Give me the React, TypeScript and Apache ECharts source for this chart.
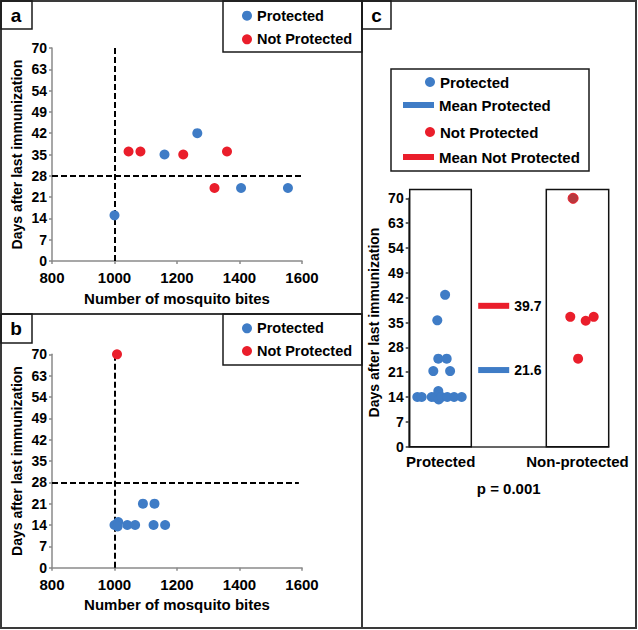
import React, { useEffect, useRef } from 'react';
import * as echarts from 'echarts';

// ---- data ----
const yTickLabels = ['0', '7', '14', '21', '28', '35', '42', '49', '54', '63', '70'];
const seriesNames = ['Protected', 'Not Protected'];
const meanNames = ['Mean Protected', 'Mean Not Protected'];
const cCategories = ['Protected', 'Non-protected'];
const cCategoryX = [16, 84.4];

// panel a
const aProtectedBites = [1000, 1160, 1265, 1405, 1555];
const aProtectedDays = [15, 35, 42, 24, 24];
const aNotProtectedBites = [1045, 1083, 1220, 1320, 1360];
const aNotProtectedDays = [36, 36, 35, 24, 36];

// panel b
const bProtectedBites = [1000, 1012, 1010, 1041, 1066, 1091, 1128, 1125, 1162];
const bProtectedDays = [14, 15, 13.5, 14, 14, 21, 21, 14, 14];
const bNotProtectedBites = [1008];
const bNotProtectedDays = [70];

// panel c (jitter position, days)
const cProtectedJitter = [4.3, 6.5, 11.5, 13.2, 14.8, 15, 16.5, 19.3, 22.7, 26.5, 12.3, 20.7, 14.8, 19, 14.3, 18.2];
const cProtectedDays = [14, 14, 14, 14, 15.7, 13.3, 14, 14, 14, 14, 21.3, 21.3, 24.8, 24.8, 35.6, 42.8];
const cNotProtectedJitter = [82.2, 80.8, 88.5, 92.5, 84.7];
const cNotProtectedDays = [70, 36.6, 35.5, 36.6, 24.8];
const cMeans = [21.6, 39.7];
const cMeanX = 42.5;

// references
const biteThreshold = [1000, 1000];
const dayThreshold = 28;
const hLineEnd = [1600, 1590];
const cBoxX = [[0.5, 31.3], [68.8, 100]];
const cBoxTop = 72.5;

const pValueText = 'p = 0.001';

// ---- styles ----
const FONT = 'Liberation Sans, Arial, Helvetica, sans-serif';
const BLUE = '#3f7cc6';
const RED = '#ea1e2b';
const DARKRED = '#b7393e';
const AXIS_GRAY = '#8a8a8a';
const DOT = 10;

const boldText = (fontSize: number) => ({
  color: '#000',
  fontWeight: 'bold' as const,
  fontSize,
  fontFamily: FONT,
});

function zip(xs: number[], ys: number[]) {
  return xs.map((x, i) => [x, ys[i]]);
}

function yAxisFor(gridIndex: number, color: string, gap: number) {
  return {
    type: 'value',
    gridIndex,
    min: 0,
    max: 70,
    interval: 7,
    axisLine: { show: true, onZero: false, lineStyle: { color, width: 1.5 } },
    axisTick: { show: true, length: 3, lineStyle: { color, width: 1.5 } },
    splitLine: { show: false },
    axisLabel: {
      ...boldText(14),
      margin: 5,
      formatter: (v: number) => yTickLabels[Math.round(v / 7)] ?? '',
    },
    name: 'Days after last immunization',
    nameLocation: 'middle',
    nameRotate: 90,
    nameGap: gap,
    nameTextStyle: boldText(14),
  };
}

function xAxisBites(gridIndex: number) {
  return {
    type: 'value',
    gridIndex,
    min: 800,
    max: 1600,
    interval: 200,
    axisLine: { show: true, onZero: false, lineStyle: { color: AXIS_GRAY, width: 1.5 } },
    axisTick: { show: true, length: 3, lineStyle: { color: AXIS_GRAY, width: 1.5 } },
    splitLine: { show: false },
    axisLabel: { ...boldText(15), margin: 9, formatter: (v: number) => String(v) },
    name: 'Number of mosquito bites',
    nameLocation: 'middle',
    nameGap: 29.5,
    nameTextStyle: boldText(15),
  };
}

function thresholdLines(panel: number) {
  return {
    silent: true,
    symbol: ['none', 'none'],
    z: 1,
    animation: false,
    label: { show: false },
    lineStyle: { color: '#000', type: [6, 3], width: 2 },
    data: [
      [{ coord: [biteThreshold[panel], 0] }, { coord: [biteThreshold[panel], 70] }],
      [{ coord: [800, dayThreshold] }, { coord: [hLineEnd[panel], dayThreshold] }],
    ],
  };
}

function legendFor(names: string[], left: number, top: number, gap: number, icon: string, w: number, h: number, fs: number) {
  return {
    show: true,
    orient: 'vertical',
    left,
    top,
    padding: 0,
    itemGap: gap,
    itemWidth: w,
    itemHeight: h,
    icon,
    selectedMode: false,
    textStyle: { ...boldText(fs), lineHeight: 15 },
    data: names,
  };
}

export default function App() {
  const ref = useRef<HTMLDivElement>(null);

  useEffect(() => {
    if (!ref.current) return;
    const chart = echarts.init(ref.current, undefined, { renderer: 'svg' });

    const dot = (name: string, xi: number, data: any[], color: string, extra: any = {}) => ({
      type: 'scatter',
      name,
      xAxisIndex: xi,
      yAxisIndex: xi,
      symbol: 'circle',
      symbolSize: DOT,
      z: 3,
      itemStyle: { color, opacity: 1 },
      data,
      ...extra,
    });

    const option: any = {
      animation: false,
      backgroundColor: '#fff',
      textStyle: { fontFamily: FONT },
      grid: [
        { left: 52, top: 48, width: 250, height: 213 },
        { left: 52, top: 354.3, width: 250, height: 213.4 },
        { left: 408.7, top: 198.3, width: 200, height: 248.4 },
      ],
      xAxis: [
        xAxisBites(0),
        xAxisBites(1),
        {
          type: 'value',
          gridIndex: 2,
          min: 0,
          max: 100,
          axisLine: { show: true, onZero: false, lineStyle: { color: '#333', width: 1.5 } },
          axisTick: { show: false },
          splitLine: { show: false },
          axisLabel: {
            ...boldText(15),
            margin: 7,
            customValues: cCategoryX,
            formatter: (v: number) => cCategories[cCategoryX.indexOf(v)] ?? '',
          },
          name: pValueText,
          nameLocation: 'middle',
          nameGap: 34,
          nameTextStyle: boldText(15),
        },
      ],
      yAxis: [yAxisFor(0, AXIS_GRAY, 28), yAxisFor(1, AXIS_GRAY, 28), yAxisFor(2, '#333', 28)],
      legend: [
        legendFor(seriesNames, 242, 8.2, 8.6, 'circle', DOT, DOT, 14.5),
        legendFor(seriesNames, 242, 320.8, 7.7, 'circle', DOT, DOT, 14.5),
        legendFor(seriesNames, 425, 74.5, 35, 'circle', DOT, DOT, 15),
        legendFor(meanNames, 403, 97.5, 37, 'rect', 31, 6, 15),
      ],
      series: [
        dot(seriesNames[0], 0, zip(aProtectedBites, aProtectedDays), BLUE, { markLine: thresholdLines(0) }),
        dot(seriesNames[1], 0, zip(aNotProtectedBites, aNotProtectedDays), RED),
        dot(seriesNames[0], 1, zip(bProtectedBites, bProtectedDays), BLUE, { markLine: thresholdLines(1) }),
        dot(seriesNames[1], 1, zip(bNotProtectedBites, bNotProtectedDays), RED),
        dot(seriesNames[0], 2, zip(cProtectedJitter, cProtectedDays), BLUE),
        dot(
          seriesNames[1],
          2,
          zip(cNotProtectedJitter, cNotProtectedDays).map((v) =>
            v[1] >= 70 ? { value: v, itemStyle: { color: DARKRED, borderColor: RED, borderWidth: 1, opacity: 1 } } : v
          ),
          RED
        ),
        ...meanNames.map((name, i) => ({
          type: 'scatter',
          name,
          xAxisIndex: 2,
          yAxisIndex: 2,
          symbol: 'rect',
          symbolSize: [31, 6],
          itemStyle: { color: i === 0 ? BLUE : RED, opacity: 1 },
          label: {
            show: true,
            position: 'right',
            distance: 5,
            ...boldText(14),
            formatter: (p: any) => p.value[1].toFixed(1),
          },
          data: [[cMeanX, cMeans[i]]],
        })),
      ],
    };

    chart.setOption(option);

    const frame = (x: number, y: number, w: number, h: number, lw = 1.5, stroke = '#1a1a1a') => ({
      type: 'rect',
      shape: { x, y, width: w, height: h },
      style: { fill: 'none', stroke, lineWidth: lw },
      silent: true,
      z: 10,
    });
    const panelLabel = (text: string, x: number, y: number) => ({
      type: 'text',
      x,
      y,
      silent: true,
      z: 11,
      style: { text, fill: '#000', font: `bold 19px ${FONT}`, align: 'center', verticalAlign: 'middle' },
    });

    const boxes = cBoxX.map(([x0, x1]) => {
      const p0 = chart.convertToPixel({ xAxisIndex: 2, yAxisIndex: 2 }, [x0, cBoxTop]);
      const p1 = chart.convertToPixel({ xAxisIndex: 2, yAxisIndex: 2 }, [x1, 0]);
      return frame(p0[0], p0[1], p1[0] - p0[0], p1[1] - p0[1], 1.5, '#111');
    });

    chart.setOption({
      graphic: [
        frame(1, 1, 635, 627, 2, '#3a3a3a'),
        { type: 'line', shape: { x1: 362, y1: 0, x2: 362, y2: 628 }, style: { stroke: '#3a3a3a', lineWidth: 2 }, silent: true, z: 10 },
        { type: 'line', shape: { x1: 0, y1: 314, x2: 362, y2: 314 }, style: { stroke: '#3a3a3a', lineWidth: 2 }, silent: true, z: 10 },
        frame(1, 1, 31, 28),
        frame(1, 314, 31, 29),
        frame(362, 1, 29, 28),
        panelLabel('a', 16, 15.5),
        panelLabel('b', 16, 328),
        panelLabel('c', 376.5, 15),
        frame(223, 1, 139, 51),
        frame(223, 314, 139, 51),
        frame(391, 69, 198, 102),
        ...boxes,
      ],
    });

    return () => chart.dispose();
  }, []);

  return (
    <div
      ref={ref}
      style={{ position: 'absolute', left: 0, top: 0, width: 638, height: 630 }}
    />
  );
}
